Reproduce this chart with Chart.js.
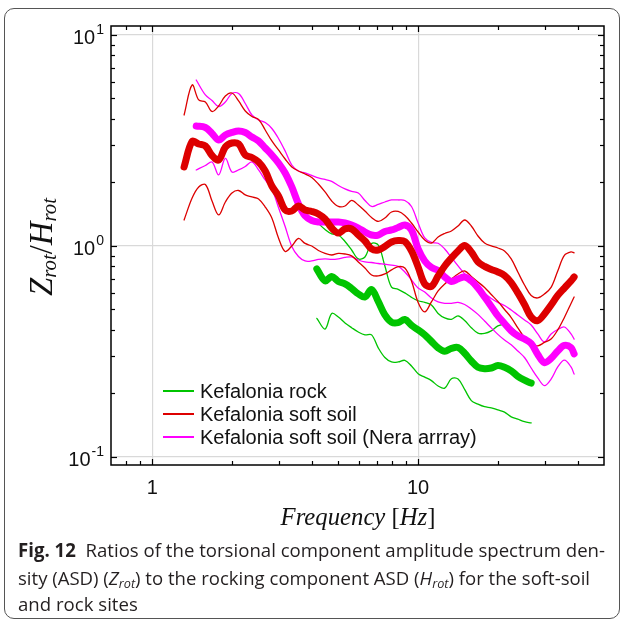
<!DOCTYPE html>
<html><head><meta charset="utf-8">
<script src="https://cdn.jsdelivr.net/npm/chart.js@4.4.0/dist/chart.umd.min.js"></script>
<style>
html,body{margin:0;padding:0;background:#fff;width:624px;height:624px;overflow:hidden;}
#frame{position:absolute;left:4px;top:8px;width:616px;height:611px;border:1px solid #555;border-radius:10px;box-sizing:border-box;}
#wrap{position:absolute;left:0;top:0;width:624px;height:624px;}
.cap{position:absolute;left:18px;white-space:nowrap;font-family:'Open Sans',sans-serif;font-size:19px;color:#231f20;transform-origin:0 50%;line-height:19px;}
.cap sub{font-size:13px;vertical-align:-3px;line-height:0;}
</style></head><body>
<div id="frame"></div>
<div id="wrap"><canvas id="c" width="624" height="624"></canvas></div>
<div class="cap" id="cap1" data-w="587" style="top:541px"><b>Fig. 12</b>&nbsp; Ratios of the torsional component amplitude spectrum den-</div>
<div class="cap" id="cap2" data-w="572" style="top:569px">sity (ASD) (<i>Z<sub>rot</sub></i>) to the rocking component ASD (<i>H<sub>rot</sub></i>) for the soft-soil</div>
<div class="cap" id="cap3" style="top:595px">and rock sites</div>
<script>
// ---- data (frequency in Hz, ratio Z_rot/H_rot) ----
const freqSoft = [1.318,1.413,1.496,1.585,1.679,1.778,1.884,1.995,2.113,2.239,2.371,2.512,2.661,2.818,2.985,3.162,3.350,3.548,3.758,3.981,4.217,4.467,4.732,5.012,5.309,5.623,5.957,6.310,6.683,7.079,7.499,7.943,8.414,8.913,9.441,10.00,10.59,11.22,11.89,12.59,13.34,14.13,14.96,15.85,16.79,17.78,18.84,19.95,21.13,22.39,23.71,25.12,26.61,28.18,29.85,31.62,33.50,35.48,37.58,38.6];
const softMean = [2.368,3.128,3.044,2.978,2.685,2.556,2.946,3.077,3.044,2.700,2.627,2.501,2.267,1.924,1.726,1.481,1.465,1.547,1.481,1.457,1.418,1.342,1.217,1.152,1.204,1.204,1.127,1.056,0.968,0.957,0.995,1.045,1.062,1.050,0.947,0.795,0.661,0.643,0.721,0.804,0.877,0.947,1.005,0.937,0.840,0.800,0.774,0.753,0.725,0.671,0.599,0.528,0.461,0.443,0.476,0.525,0.583,0.632,0.683,0.713];
const softUpper = [4.177,5.795,4.920,4.814,4.340,4.609,5.139,5.310,4.867,4.364,4.109,3.977,3.546,3.145,2.851,2.584,2.368,2.267,2.194,2.112,1.967,1.803,1.634,1.539,1.547,1.643,1.564,1.465,1.365,1.307,1.357,1.449,1.457,1.395,1.285,1.165,1.068,1.033,1.103,1.146,1.178,1.244,1.328,1.244,1.115,1.033,1.000,0.978,0.947,0.868,0.753,0.653,0.583,0.567,0.592,0.636,0.761,0.902,0.937,0.927];
const softLower = [1.328,1.688,1.904,1.956,1.634,1.403,1.616,1.783,1.832,1.745,1.707,1.670,1.530,1.357,1.091,0.942,1.000,1.085,1.028,1.000,0.952,0.922,0.906,0.922,0.916,0.897,0.840,0.786,0.729,0.721,0.737,0.770,0.798,0.786,0.683,0.540,0.487,0.543,0.612,0.661,0.698,0.737,0.761,0.717,0.675,0.636,0.589,0.546,0.500,0.458,0.409,0.368,0.343,0.336,0.349,0.362,0.400,0.458,0.534,0.573];

const freqNera = [1.464,1.585,1.679,1.778,1.884,1.995,2.113,2.239,2.371,2.512,2.661,2.818,2.985,3.162,3.350,3.548,3.758,3.981,4.217,4.467,4.732,5.012,5.309,5.623,5.957,6.310,6.683,7.079,7.499,7.943,8.414,8.913,9.441,10.00,10.59,11.22,11.89,12.59,13.34,14.13,14.96,15.85,16.79,17.78,18.84,19.95,21.13,22.39,23.71,25.12,26.61,28.18,29.85,31.62,33.50,35.48,37.58,38.6];
const neraMean = [3.705,3.644,3.414,3.180,3.358,3.451,3.508,3.451,3.285,3.145,2.913,2.700,2.474,2.218,1.904,1.582,1.388,1.321,1.299,1.299,1.299,1.299,1.285,1.257,1.217,1.165,1.127,1.127,1.171,1.191,1.224,1.257,1.191,0.968,0.849,0.791,0.765,0.713,0.679,0.698,0.713,0.683,0.632,0.573,0.517,0.466,0.429,0.396,0.375,0.362,0.345,0.306,0.280,0.293,0.318,0.338,0.330,0.308];
const neraUpper = [6.120,5.196,4.893,4.583,4.814,5.282,5.282,4.736,4.177,3.955,3.848,3.605,3.232,2.820,2.420,2.267,2.218,2.159,2.101,2.067,2.022,1.935,1.863,1.813,1.783,1.643,1.539,1.573,1.616,1.652,1.652,1.643,1.539,1.285,1.091,1.039,1.030,0.968,0.882,0.804,0.737,0.683,0.632,0.596,0.564,0.540,0.522,0.497,0.471,0.446,0.422,0.383,0.351,0.383,0.402,0.413,0.383,0.362];
const neraLower = [2.292,2.407,2.501,2.171,2.598,2.242,2.292,2.381,2.501,2.292,2.055,1.863,1.522,1.237,0.995,0.892,0.849,0.849,0.863,0.868,0.863,0.868,0.882,0.887,0.858,0.840,0.835,0.826,0.819,0.811,0.800,0.753,0.690,0.632,0.605,0.567,0.543,0.535,0.535,0.540,0.528,0.503,0.474,0.441,0.409,0.381,0.358,0.340,0.318,0.296,0.264,0.237,0.218,0.234,0.267,0.288,0.267,0.247];

const freqRock = [4.16,4.467,4.732,5.012,5.309,5.623,5.957,6.310,6.683,7.079,7.499,7.943,8.414,8.913,9.441,10.00,10.59,11.22,11.89,12.59,13.34,14.13,14.96,15.85,16.79,17.78,18.84,19.95,21.13,22.39,23.71,25.12,26.61];
const rockMean = [0.778,0.683,0.717,0.679,0.661,0.629,0.593,0.573,0.622,0.546,0.471,0.435,0.433,0.448,0.421,0.400,0.379,0.353,0.329,0.317,0.327,0.330,0.310,0.285,0.266,0.262,0.264,0.271,0.266,0.256,0.241,0.231,0.224];
const rockUpper = [1.299,1.197,1.140,1.127,1.050,0.957,0.868,0.887,1.028,1.011,0.804,0.638,0.623,0.599,0.571,0.550,0.540,0.525,0.479,0.456,0.449,0.466,0.443,0.410,0.386,0.385,0.396,0.418,0.425,0.409,0.386,0.361,0.336];
const rockLower = [0.454,0.404,0.479,0.461,0.432,0.410,0.391,0.379,0.379,0.329,0.296,0.282,0.282,0.287,0.270,0.248,0.239,0.230,0.217,0.212,0.235,0.234,0.209,0.185,0.178,0.173,0.171,0.167,0.163,0.155,0.151,0.147,0.145];

const seriesLabels = ['Kefalonia rock','Kefalonia soft soil','Kefalonia soft soil (Nera arrray)'];
const xMajor = [1,10];
const xMajorLabels = ['1','10'];
const xMinor = [0.8,0.9,2,3,4,5,6,7,8,9,20,30,40];
const yMajor = [0.1,1,10];
const yMajorExp = ['-1','0','1'];
const yMinor = [0.2,0.3,0.4,0.5,0.6,0.7,0.8,0.9,2,3,4,5,6,7,8,9];

const RED='#dd0000', MAG='#ff00ff', GRN='#00c400';
function pts(fs, vs){ return fs.map((f,i)=>({x:f,y:vs[i]})); }
function ds(fs, vs, color, w){
  return {data: pts(fs,vs), borderColor: color, borderWidth: w, pointRadius:0, fill:false,
          tension:0.35, borderCapStyle:'round', borderJoinStyle:'round'};
}

const SANS='"Liberation Sans", Arial, sans-serif';
const SERIF='"Liberation Serif", "Times New Roman", serif';

const deco = {
  id:'deco',
  afterDatasetsDraw(chart){
    const {ctx, chartArea:a, scales:{x,y}} = chart;
    ctx.save();
    ctx.strokeStyle='#000'; ctx.lineWidth=1.2;
    const tick=(x1,y1,x2,y2)=>{ctx.beginPath();ctx.moveTo(x1,y1);ctx.lineTo(x2,y2);ctx.stroke();};
    xMajor.concat(xMinor).forEach(v=>{
      const L = xMajor.includes(v)?6:4; const px=Math.round(x.getPixelForValue(v))+0.5;
      tick(px,a.bottom,px,a.bottom-L); tick(px,a.top,px,a.top+L);
    });
    yMajor.concat(yMinor).forEach(v=>{
      const L = yMajor.includes(v)?6:4; const py=Math.round(y.getPixelForValue(v))+0.5;
      tick(a.left,py,a.left+L,py); tick(a.right,py,a.right-L,py);
    });
    ctx.lineWidth=1.5;
    ctx.strokeRect(a.left,a.top,a.right-a.left,a.bottom-a.top);
    // tick labels
    ctx.fillStyle='#111';
    ctx.textBaseline='middle';
    xMajor.forEach((v,i)=>{
      ctx.font='20px '+SANS; ctx.textAlign='center';
      ctx.fillText(xMajorLabels[i], x.getPixelForValue(v), 488);
    });
    yMajor.forEach((v,i)=>{
      const py=y.getPixelForValue(v); const e=yMajorExp[i];
      ctx.font='14px '+SANS; const we=ctx.measureText(e).width;
      ctx.textAlign='left'; ctx.fillText(e, 104-we, py-5);
      ctx.font='20px '+SANS; ctx.textAlign='right'; ctx.fillText('10', 104-we-1, py+4);
    });
    // x title
    const xt=[['Frequency','italic',21,0],[' [','normal',21,0],['Hz','italic',21,0],[']','normal',21,0]];
    drawPieces(ctx, xt, 358, 519, 155);
    // y title
    ctx.save(); ctx.translate(43,247); ctx.rotate(-Math.PI/2);
    const yt=[['Z','italic',22,0],['rot','italic',14,5],['/','normal',22,0],['H','italic',22,0],['rot','italic',14,5]];
    drawPieces(ctx, yt, 0, 0, 98);
    ctx.restore();
    // legend
    const cols=[GRN,RED,MAG]; const ly=[391,414,437];
    seriesLabels.forEach((t,i)=>{
      ctx.strokeStyle=cols[i]; ctx.lineWidth=2;
      tick(163,ly[i],194,ly[i]);
      ctx.font='20px '+SANS; ctx.textAlign='left'; ctx.fillStyle='#111';
      ctx.fillText(t,200,ly[i]+1);
    });
    ctx.restore();
  }
};
function drawPieces(ctx, pieces, cx, cy, target){
  const measure = k => { let t=0; pieces.forEach(p=>{ctx.font=p[1]+' '+(p[2]*k)+'px '+SERIF; t+=ctx.measureText(p[0]).width;}); return t; };
  const k = target ? target/measure(1) : 1;
  const tot = measure(k);
  let xx=cx-tot/2;
  ctx.textAlign='left'; ctx.textBaseline='middle'; ctx.fillStyle='#111';
  pieces.forEach(p=>{ctx.font=p[1]+' '+(p[2]*k)+'px '+SERIF; ctx.fillText(p[0],xx,cy+p[3]*k); xx+=ctx.measureText(p[0]).width;});
}

const isMajor = v => Math.abs(Math.log10(v)-Math.round(Math.log10(v)))<1e-6;
const gridColor = c => (c.tick && isMajor(c.tick.value)) ? '#d9d9d9' : 'rgba(0,0,0,0)';

new Chart(document.getElementById('c'), {
  type:'line',
  data:{datasets:[
    ds(freqSoft, softMean, RED, 7),
    ds(freqNera, neraMean, MAG, 7),
    ds(freqRock, rockMean, GRN, 7),
    ds(freqSoft, softUpper, RED, 1.3),
    ds(freqSoft, softLower, RED, 1.3),
    ds(freqNera, neraUpper, MAG, 1.3),
    ds(freqNera, neraLower, MAG, 1.3),
    ds(freqRock, rockUpper, GRN, 1.3),
    ds(freqRock, rockLower, GRN, 1.3)
  ]},
  options:{
    responsive:false, animation:false, devicePixelRatio:1,
    layout:{padding:{left:111,top:26,right:20,bottom:159}},
    plugins:{legend:{display:false}, tooltip:{enabled:false}},
    scales:{
      x:{type:'logarithmic', min:0.7, max:50, bounds:'data',
         ticks:{display:false}, border:{display:false},
         grid:{color:gridColor, lineWidth:1.2, drawTicks:false},
         afterFit(s){s.height=0;}},
      y:{type:'logarithmic', min:0.0916, max:11.03, bounds:'data',
         ticks:{display:false}, border:{display:false},
         grid:{color:gridColor, lineWidth:1.2, drawTicks:false},
         afterFit(s){s.width=0;}}
    }
  },
  plugins:[deco]
});

const c1 = document.getElementById('cap1');
const s1 = +c1.dataset.w / c1.getBoundingClientRect().width;
const c2 = document.getElementById('cap2');
const s2 = +c2.dataset.w / c2.getBoundingClientRect().width;
c1.style.transform = 'scaleX(' + s1 + ')';
c2.style.transform = 'scaleX(' + s2 + ')';
document.getElementById('cap3').style.transform = 'scaleX(' + s1 + ')';
</script>
</body></html>
